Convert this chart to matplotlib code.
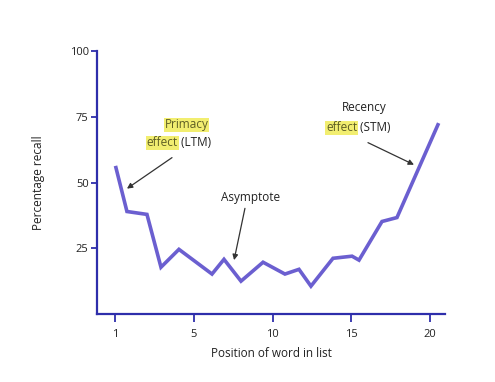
import matplotlib
matplotlib.use("Agg")
import matplotlib.pyplot as plt

# Data (axis units: first tick labelled "1" sits at 0)
positions = [0.06, 0.76, 2.03, 2.92, 4.06, 6.16, 6.92, 8.0, 9.4, 10.79,
             11.68, 12.44, 13.84, 15.05, 15.49, 16.95, 17.9, 20.5]
recall = [55.7, 39.0, 37.9, 17.8, 24.6, 15.2, 20.8, 12.5, 19.7, 15.2,
          17.0, 10.6, 21.2, 22.0, 20.5, 35.2, 36.7, 72.0]
x_ticks = [0, 5, 10, 15, 20]
x_tick_labels = ["1", "5", "10", "15", "20"]
y_ticks = [25, 50, 75, 100]
y_tick_labels = ["25", "50", "75", "100"]

plt.rcParams['font.family'] = ['Open Sans', 'DejaVu Sans']

fig = plt.figure(figsize=(4.95, 3.82), dpi=100)
ax = fig.add_axes([0.196, 0.178, 0.703, 0.688])

line_color = '#6b5fd0'
spine_color = '#2e2eab'
text_color = '#222222'
hl = '#f2ee70'
hl_text = '#5e5e24'

ax.plot(positions, recall, color=line_color, lw=2.6, solid_joinstyle='miter')

ax.set_xlim(-1.14, 20.95)
ax.set_ylim(0, 100)
ax.set_xticks(x_ticks)
ax.set_xticklabels(x_tick_labels)
ax.set_yticks(y_ticks)
ax.set_yticklabels(y_tick_labels)

for s in ['top', 'right']:
    ax.spines[s].set_visible(False)
for s in ['left', 'bottom']:
    ax.spines[s].set_color(spine_color)
    ax.spines[s].set_linewidth(1.6)

ax.tick_params(axis='y', direction='out', length=4, width=1.3, color=spine_color,
               labelsize=8, labelcolor=text_color, pad=2)
ax.tick_params(axis='x', direction='out', length=6, width=1.3, color=spine_color,
               labelsize=8, labelcolor=text_color, pad=5)

ax.set_xlabel('Position of word in list', fontsize=8.5, color=text_color, labelpad=5)
ax.set_ylabel('Percentage recall', fontsize=8.5, color=text_color, labelpad=18)

fs = 8.5
# Primacy annotation
ax.text(4.57, 72.0, 'Primacy', ha='center', va='center', fontsize=fs, color=hl_text,
        bbox=dict(boxstyle='square,pad=0.05', fc=hl, ec='none'))
ax.text(4.0, 65.2, 'effect', ha='right', va='center', fontsize=fs, color=hl_text,
        bbox=dict(boxstyle='square,pad=0.05', fc=hl, ec='none'))
ax.text(4.0, 65.2, ' (LTM)', ha='left', va='center', fontsize=fs, color=text_color)
ax.annotate('', xy=(0.76, 47.7), xytext=(3.62, 59.5),
            arrowprops=dict(arrowstyle='-|>', color='#333333', lw=0.9,
                            mutation_scale=8, shrinkA=0, shrinkB=0))

# Asymptote annotation
ax.text(8.63, 44.3, 'Asymptote', ha='center', va='center', fontsize=fs, color=text_color)
ax.annotate('', xy=(7.56, 20.5), xytext=(8.25, 40.2),
            arrowprops=dict(arrowstyle='-|>', color='#333333', lw=0.9,
                            mutation_scale=8, shrinkA=0, shrinkB=0))

# Recency annotation
ax.text(15.81, 78.4, 'Recency', ha='center', va='center', fontsize=fs, color=text_color)
ax.text(15.37, 70.8, 'effect', ha='right', va='center', fontsize=fs, color=hl_text,
        bbox=dict(boxstyle='square,pad=0.05', fc=hl, ec='none'))
ax.text(15.37, 70.8, ' (STM)', ha='left', va='center', fontsize=fs, color=text_color)
ax.annotate('', xy=(18.98, 56.8), xytext=(16.06, 65.2),
            arrowprops=dict(arrowstyle='-|>', color='#333333', lw=0.9,
                            mutation_scale=8, shrinkA=0, shrinkB=0))

fig.savefig('out.png', dpi=100)
